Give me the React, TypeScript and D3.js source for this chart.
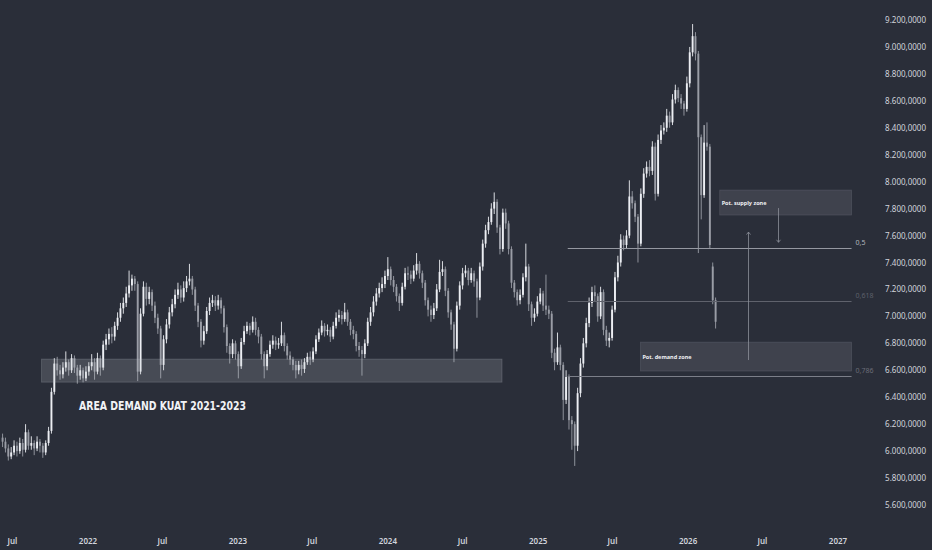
import * as d3 from 'd3';
import React, { ReactElement, useEffect, useRef } from 'react';

const WIDTH = 932;
const HEIGHT = 550;
const BG = '#2a2e39';
const UP = '#eceef3';
const DOWN = '#9a9da6';
const AXIS_TEXT = '#d1d4dc';

// weekly candles, first week starts here
const FIRST_WEEK = new Date(2021, 5, 7);

const opens = [
  6100, 6070, 6020, 5960, 5990, 6040, 6000, 6060, 6010, 6140,
  6040, 6060, 6020, 6070, 6040, 5990, 6060, 6150, 6440, 6650,
  6600, 6570, 6620, 6660, 6600, 6690, 6620, 6560, 6600, 6540,
  6590, 6630, 6660, 6590, 6690, 6620, 6790, 6830, 6870, 6850,
  6930, 6990, 7060, 7100, 7170, 7230, 7280, 7240, 6590, 7020,
  7220, 7130, 7180, 7080, 6990, 6910, 6640, 6830, 6940, 7030,
  7090, 7160, 7200, 7140, 7210, 7260, 7280, 7200, 7080, 6960,
  6820, 6890, 7040, 7100, 7120, 7080, 7120, 7060, 6920, 6780,
  6720, 6800, 6720, 6630, 6810, 6890, 6930, 6900, 6960, 6900,
  6850, 6720, 6630, 6720, 6790, 6820, 6790, 6800, 6860, 6780,
  6710, 6680, 6640, 6600, 6640, 6610, 6660, 6700, 6680, 6740,
  6830, 6880, 6930, 6890, 6900, 6850, 6930, 6990, 7010, 6980,
  7030, 6960, 6900, 6870, 6780, 6750, 6720, 6800, 6960, 7030,
  7110, 7170, 7210, 7240, 7300, 7350, 7270, 7220, 7150, 7100,
  7220, 7320, 7310, 7280, 7340, 7390, 7320, 7250, 7120, 7050,
  7010, 7060, 7200, 7330, 7350, 7190, 7030, 6940, 6760, 7080,
  7230, 7320, 7340, 7270, 7320, 7260, 7140, 7370, 7540, 7640,
  7700, 7800, 7850, 7660, 7500, 7770, 7690, 7500, 7250, 7180,
  7120, 7160, 7290, 7370, 7090, 6990, 7020, 7110, 7170, 7080,
  7050, 7020, 6730, 6660, 6770, 6640, 6380, 6550, 6230, 6200,
  6040, 6430, 6650, 6800, 6950, 7100, 7180, 7150, 7000, 7180,
  6900, 6820, 6840, 7050, 7290, 7400, 7570, 7530, 7600, 7890,
  7840, 7740, 7540, 7910, 8060, 8110, 8080, 8260, 7910, 8310,
  8380, 8400, 8490, 8440, 8610, 8680, 8620, 8580, 8540, 8730,
  8960, 9080, 8950, 8330, 7900, 8290, 8260, 7370, 7120,
];

const highs = [
  6130, 6100, 6050, 6030, 6080, 6070, 6100, 6090, 6200, 6160,
  6110, 6080, 6110, 6090, 6060, 6080, 6180, 6470, 6690, 6700,
  6640, 6660, 6740, 6680, 6720, 6710, 6640, 6640, 6620, 6630,
  6660, 6720, 6690, 6730, 6710, 6820, 6870, 6910, 6920, 6960,
  7030, 7100, 7140, 7220, 7340, 7310, 7300, 7260, 7060, 7260,
  7250, 7220, 7200, 7110, 7020, 6930, 6860, 6980, 7070, 7130,
  7200, 7250, 7230, 7260, 7300, 7390, 7300, 7220, 7100, 6980,
  6930, 7070, 7140, 7160, 7150, 7160, 7140, 7080, 6940, 6800,
  6830, 6820, 6740, 6840, 6930, 6960, 6950, 7000, 6990, 6920,
  6870, 6740, 6750, 6820, 6860, 6850, 6840, 6960, 6880, 6800,
  6740, 6700, 6670, 6670, 6680, 6690, 6730, 6740, 6770, 6860,
  6910, 6970, 6950, 6940, 6920, 6960, 7030, 7050, 7040, 7100,
  7050, 6980, 6930, 6890, 6810, 6780, 6830, 6990, 7070, 7150,
  7210, 7250, 7290, 7340, 7440, 7370, 7300, 7240, 7170, 7250,
  7360, 7370, 7340, 7380, 7470, 7410, 7340, 7270, 7140, 7080,
  7100, 7240, 7420, 7410, 7370, 7210, 7050, 6960, 7110, 7260,
  7360, 7380, 7360, 7360, 7340, 7280, 7400, 7570, 7680, 7740,
  7840, 7920, 7870, 7680, 7800, 7800, 7710, 7520, 7270, 7200,
  7200, 7320, 7540, 7390, 7110, 7060, 7150, 7210, 7190, 7310,
  7080, 7040, 6760, 6880, 6790, 6660, 6600, 6570, 6260, 6220,
  6470, 6690, 6840, 6990, 7140, 7220, 7230, 7170, 7220, 7200,
  6930, 6880, 7080, 7330, 7450, 7610, 7600, 7640, 8010, 7930,
  7860, 7760, 7950, 8100, 8150, 8160, 8300, 8290, 8350, 8420,
  8440, 8540, 8520, 8650, 8720, 8700, 8650, 8600, 8780, 9000,
  9170, 9110, 8970, 8350, 8420, 8440, 8280, 7400, 7140,
];

const lows = [
  6030, 5990, 5930, 5940, 5970, 5960, 5980, 5960, 5990, 6010,
  6010, 5970, 6000, 5990, 5950, 5970, 6040, 6130, 6420, 6560,
  6530, 6540, 6590, 6560, 6580, 6580, 6500, 6530, 6510, 6520,
  6560, 6600, 6530, 6570, 6560, 6600, 6750, 6790, 6800, 6820,
  6900, 6960, 7020, 7070, 7140, 7190, 7190, 6520, 6570, 7000,
  7080, 7090, 7040, 6950, 6870, 6540, 6600, 6800, 6910, 7000,
  7060, 7130, 7100, 7110, 7180, 7230, 7160, 7040, 6920, 6770,
  6790, 6870, 7010, 7070, 7040, 7050, 7020, 6880, 6730, 6650,
  6690, 6680, 6540, 6610, 6790, 6870, 6860, 6880, 6860, 6800,
  6680, 6540, 6600, 6700, 6760, 6750, 6760, 6780, 6740, 6680,
  6640, 6600, 6540, 6570, 6560, 6580, 6640, 6640, 6660, 6720,
  6810, 6860, 6850, 6860, 6810, 6830, 6910, 6960, 6940, 6960,
  6930, 6860, 6830, 6740, 6700, 6560, 6690, 6780, 6930, 7000,
  7080, 7140, 7180, 7210, 7270, 7230, 7180, 7110, 7040, 7080,
  7200, 7270, 7240, 7260, 7310, 7280, 7210, 7080, 7000, 6960,
  6980, 7040, 7180, 7300, 7150, 6990, 6900, 6660, 6740, 7050,
  7200, 7290, 7230, 7250, 7220, 6990, 7120, 7340, 7510, 7610,
  7680, 7760, 7620, 7460, 7480, 7650, 7460, 7210, 7140, 7080,
  7090, 7140, 7260, 7040, 6930, 6960, 7000, 7090, 7040, 7010,
  6980, 6690, 6600, 6640, 6600, 6230, 6350, 6160, 6010, 5890,
  6000, 6400, 6620, 6770, 6920, 7070, 7110, 6960, 6980, 6860,
  6780, 6770, 6820, 7030, 7260, 7370, 7490, 7500, 7580, 7800,
  7700, 7400, 7520, 7880, 8030, 8040, 8050, 7860, 7890, 8280,
  8350, 8370, 8400, 8420, 8580, 8590, 8540, 8490, 8520, 8700,
  8930, 8900, 7470, 7720, 7880, 8230, 7500, 7090, 6910,
];

const closes = [
  6070, 6020, 5960, 5990, 6040, 6000, 6060, 6010, 6140, 6040,
  6060, 6020, 6070, 6040, 5990, 6060, 6150, 6440, 6650, 6600,
  6570, 6620, 6660, 6600, 6690, 6620, 6560, 6600, 6540, 6590,
  6630, 6660, 6590, 6690, 6620, 6790, 6830, 6870, 6850, 6930,
  6990, 7060, 7100, 7170, 7230, 7280, 7240, 6590, 7020, 7220,
  7130, 7180, 7080, 6990, 6910, 6640, 6830, 6940, 7030, 7090,
  7160, 7200, 7140, 7210, 7260, 7280, 7200, 7080, 6960, 6820,
  6890, 7040, 7100, 7120, 7080, 7120, 7060, 6920, 6780, 6720,
  6800, 6720, 6630, 6810, 6890, 6930, 6900, 6960, 6900, 6850,
  6720, 6630, 6720, 6790, 6820, 6790, 6800, 6860, 6780, 6710,
  6680, 6640, 6600, 6640, 6610, 6660, 6700, 6680, 6740, 6830,
  6880, 6930, 6890, 6900, 6850, 6930, 6990, 7010, 6980, 7030,
  6960, 6900, 6870, 6780, 6750, 6720, 6800, 6960, 7030, 7110,
  7170, 7210, 7240, 7300, 7350, 7270, 7220, 7150, 7100, 7220,
  7320, 7310, 7280, 7340, 7390, 7320, 7250, 7120, 7050, 7010,
  7060, 7200, 7330, 7350, 7190, 7030, 6940, 6760, 7080, 7230,
  7320, 7340, 7270, 7320, 7260, 7140, 7370, 7540, 7640, 7700,
  7800, 7850, 7660, 7500, 7770, 7690, 7500, 7250, 7180, 7120,
  7160, 7290, 7370, 7090, 6990, 7020, 7110, 7170, 7080, 7050,
  7020, 6730, 6660, 6770, 6640, 6380, 6550, 6230, 6200, 6040,
  6430, 6650, 6800, 6950, 7100, 7180, 7150, 7000, 7180, 6900,
  6820, 6840, 7050, 7290, 7400, 7570, 7530, 7600, 7890, 7840,
  7740, 7540, 7910, 8060, 8110, 8080, 8260, 7910, 8310, 8380,
  8400, 8490, 8440, 8610, 8680, 8620, 8580, 8540, 8730, 8960,
  9080, 8950, 8330, 7900, 8290, 8260, 7530, 7120, 6960,
];

const yTicks = [
  5600, 5800, 6000, 6200, 6400, 6600, 6800, 7000, 7200, 7400,
  7600, 7800, 8000, 8200, 8400, 8600, 8800, 9000, 9200,
];

const xTickDates = [
  new Date(2021, 6, 1), new Date(2022, 0, 1), new Date(2022, 6, 1),
  new Date(2023, 0, 1), new Date(2023, 6, 1), new Date(2024, 0, 1),
  new Date(2024, 6, 1), new Date(2025, 0, 1), new Date(2025, 6, 1),
  new Date(2026, 0, 1), new Date(2026, 6, 1), new Date(2027, 0, 1),
];
const xTickLabels = [
  'Jul', '2022', 'Jul', '2023', 'Jul', '2024',
  'Jul', '2025', 'Jul', '2026', 'Jul', '2027',
];

// fibonacci retracement drawn between these swing points
const fibSwingHigh = 9180;
const fibSwingLow = 5840;
const fibRatios = [0.5, 0.618, 0.786];
const fibLabels = ['0,5', '0,618', '0,786'];
const fibLineColors = ['#9598a1', '#5f626c', '#7c7f89'];
const fibTextColors = ['#b2b5be', '#5d606b', '#6a6d78'];
const fibStart = new Date(2025, 2, 14);
const fibEnd = new Date(2027, 1, 3);

// annotation zones: [startDate, endDate, topPrice, bottomPrice]
const areaZone = [new Date(2021, 8, 10), new Date(2024, 9, 5), 6683, 6512];
const supplyZone = [new Date(2026, 2, 19), new Date(2027, 1, 3), 7938, 7752];
const demandZone = [new Date(2025, 8, 7), new Date(2027, 1, 3), 6809, 6594];

// arrows: [date, fromPrice, toPrice]
const downArrow = [new Date(2026, 7, 7), 7804, 7550];
const upArrow = [new Date(2026, 4, 28), 6676, 7626];

const fmt = d3
  .formatLocale({ decimal: ',', thousands: '.', grouping: [3], currency: ['', ''] })
  .format(',.4f');

const Chart = (): ReactElement => {
  const ref = useRef(null);

  const create = () => {
    const svg = d3
      .select(ref.current)
      .append('svg')
      .attr('width', WIDTH)
      .attr('height', HEIGHT)
      .style('display', 'block');

    svg.append('rect').attr('width', WIDTH).attr('height', HEIGHT).attr('fill', BG);

    const x = d3
      .scaleTime()
      .domain([new Date(2022, 0, 1), new Date(2027, 0, 1)])
      .range([88, 838]);
    const y = d3.scaleLinear().domain([5600, 9200]).range([505, 20]);

    const candles = closes.map((c, i) => ({
      date: d3.timeWeek.offset(FIRST_WEEK, i),
      open: opens[i],
      high: highs[i],
      low: lows[i],
      close: c,
    }));

    const bodyW = 1.9;
    const g = svg.append('g');
    const bars = g
      .selectAll('g.candle')
      .data(candles)
      .enter()
      .append('g')
      .attr('class', 'candle');

    bars
      .append('line')
      .attr('x1', (d) => x(d.date))
      .attr('x2', (d) => x(d.date))
      .attr('y1', (d) => y(d.high))
      .attr('y2', (d) => y(d.low))
      .attr('stroke', (d) => (d.close >= d.open ? UP : DOWN))
      .attr('stroke-width', 0.9);

    bars
      .append('rect')
      .attr('x', (d) => x(d.date) - bodyW / 2)
      .attr('width', bodyW)
      .attr('y', (d) => y(Math.max(d.open, d.close)))
      .attr('height', (d) => Math.max(1, Math.abs(y(d.open) - y(d.close))))
      .attr('fill', (d) => (d.close >= d.open ? UP : DOWN));

    // zones
    const zone = (z, fill, stroke) => {
      svg
        .append('rect')
        .attr('x', x(z[0]))
        .attr('width', x(z[1]) - x(z[0]))
        .attr('y', y(z[2]))
        .attr('height', y(z[3]) - y(z[2]))
        .attr('fill', fill)
        .attr('stroke', stroke)
        .attr('stroke-width', 0.8);
    };
    zone(areaZone, 'rgba(190,193,202,0.2)', 'rgba(200,203,212,0.25)');
    zone(supplyZone, 'rgba(190,193,202,0.14)', 'rgba(200,203,212,0.15)');
    zone(demandZone, 'rgba(190,193,202,0.14)', 'rgba(200,203,212,0.15)');

    svg
      .append('text')
      .attr('x', x(supplyZone[0]) + 2)
      .attr('y', (y(supplyZone[2]) + y(supplyZone[3])) / 2 + 2)
      .attr('font-family', 'Noto Sans, sans-serif')
      .attr('font-size', '5.5px')
      .attr('font-weight', 700)
      .attr('fill', '#f0f1f4')
      .text('Pot. supply zone');

    svg
      .append('text')
      .attr('x', x(demandZone[0]) + 2)
      .attr('y', (y(demandZone[2]) + y(demandZone[3])) / 2 + 2)
      .attr('font-family', 'Noto Sans, sans-serif')
      .attr('font-size', '5.5px')
      .attr('font-weight', 700)
      .attr('fill', '#f0f1f4')
      .text('Pot. demand zone');

    // fib levels
    fibRatios.forEach((r, i) => {
      const level = fibSwingHigh - (fibSwingHigh - fibSwingLow) * r;
      const ly = Math.round(y(level)) + 0.5;
      svg
        .append('line')
        .attr('x1', x(fibStart))
        .attr('x2', x(fibEnd))
        .attr('y1', ly)
        .attr('y2', ly)
        .attr('stroke', fibLineColors[i])
        .attr('stroke-width', i === 0 ? 1.2 : 1);
      svg
        .append('text')
        .attr('x', x(fibEnd) + 4)
        .attr('y', ly - 4)
        .attr('font-family', 'Noto Sans, sans-serif')
        .attr('font-size', '7px')
        .attr('fill', fibTextColors[i])
        .text(fibLabels[i]);
    });

    // arrows
    const arrow = (a, dir) => {
      const ax = Math.round(x(a[0])) + 0.5;
      const y1 = y(a[1]);
      const y2 = y(a[2]);
      svg
        .append('line')
        .attr('x1', ax)
        .attr('x2', ax)
        .attr('y1', y1)
        .attr('y2', y2)
        .attr('stroke', '#8c8f99')
        .attr('stroke-width', 0.8);
      svg
        .append('path')
        .attr('d', `M${ax - 2},${y2 - dir * 2.5}L${ax},${y2}L${ax + 2},${y2 - dir * 2.5}`)
        .attr('fill', 'none')
        .attr('stroke', '#8c8f99')
        .attr('stroke-width', 0.8);
    };
    arrow(downArrow, 1);
    arrow(upArrow, -1);

    svg
      .append('text')
      .attr('x', 79)
      .attr('y', 410)
      .attr('font-family', "'DejaVu Sans Condensed', 'Liberation Sans Narrow', 'Noto Sans', sans-serif")
      .attr('font-size', '13px')
      .attr('font-weight', 700)
      .attr('fill', '#f2f3f6')
      .attr('textLength', 167)
      .attr('lengthAdjust', 'spacingAndGlyphs')
      .text('AREA DEMAND KUAT 2021-2023');

    // price axis
    svg
      .append('g')
      .selectAll('text')
      .data(yTicks)
      .enter()
      .append('text')
      .attr('x', 926)
      .attr('y', (d) => y(d) + 3)
      .attr('text-anchor', 'end')
      .attr('font-family', 'Noto Sans, sans-serif')
      .attr('font-size', '8px')
      .attr('fill', AXIS_TEXT)
      .text((d) => fmt(d));

    // time axis
    svg
      .append('g')
      .selectAll('text')
      .data(xTickDates)
      .enter()
      .append('text')
      .attr('x', (d) => x(d))
      .attr('y', 544)
      .attr('text-anchor', 'middle')
      .attr('font-family', 'Noto Sans, sans-serif')
      .attr('font-size', '8px')
      .attr('font-weight', 600)
      .attr('fill', AXIS_TEXT)
      .text((d, i) => xTickLabels[i]);
  };

  const clear = () => {
    d3.select(ref.current).selectAll('svg').remove();
  };

  useEffect(() => {
    create();
    return () => {
      clear();
    };
  }, []);

  return <div ref={ref}></div>;
};

export default function App(): ReactElement {
  return (
    <div style={{ position: 'fixed', left: 0, top: 0, width: WIDTH, height: HEIGHT, background: BG }}>
      <Chart />
    </div>
  );
}
